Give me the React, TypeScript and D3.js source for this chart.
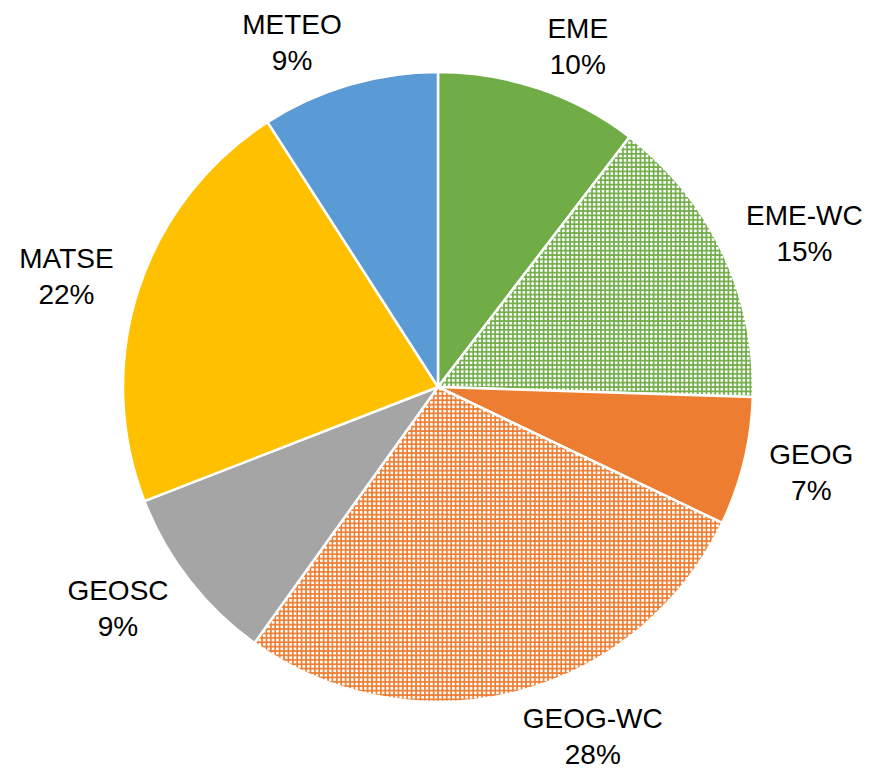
import React from "react";
import * as d3 from "d3";

const categories = ["EME", "EME-WC", "GEOG", "GEOG-WC", "GEOSC", "MATSE", "METEO"];
const values = [10.4, 15.1, 6.6, 27.8, 9.2, 21.8, 9.1];
const percentLabels = ["10%", "15%", "7%", "28%", "9%", "22%", "9%"];
const baseColors = ["#70AD47", "#70AD47", "#ED7D31", "#ED7D31", "#A5A5A5", "#FFC000", "#5B9BD5"];
const patterned = [false, true, false, true, false, false, false];

const W = 874;
const H = 770;
const CX = 438;
const CY = 387;
const R = 315;
const FONT = 28;
const FONT_FAMILY = "'Liberation Sans', Arial, sans-serif";

function measure(text: string): number {
  if (typeof document === "undefined") return text.length * FONT * 0.6;
  const c = document.createElement("canvas");
  const ctx = c.getContext("2d");
  if (!ctx) return text.length * FONT * 0.6;
  ctx.font = `${FONT}px ${FONT_FAMILY}`;
  return ctx.measureText(text).width;
}

export default function App() {
  const data = categories.map((c, i) => ({ name: c, value: values[i], label: percentLabels[i], i }));
  const pie = d3.pie<any>().sort(null).value((d: any) => d.value);
  const arcs = pie(data);
  const arcGen = d3.arc<any>().innerRadius(0).outerRadius(R);

  const D = 341;
  const boxH = 38;

  return (
    <svg
      width={W}
      height={H}
      style={{ position: "absolute", left: 0, top: 0, background: "#fff" }}
    >
      <defs>
        {["#70AD47", "#ED7D31"].map((col, k) => (
          <pattern
            key={k}
            id={`pat${k}`}
            patternUnits="userSpaceOnUse"
            width={4.4}
            height={4.4}
          >
            <rect x={0} y={0} width={4.4} height={4.4} fill={col} />
            <rect x={0.9} y={0.9} width={2.7} height={2.7} fill="#ffffff" />
          </pattern>
        ))}
      </defs>
      <rect x={0} y={0} width={W} height={H} fill="#fff" />
      <g transform={`translate(${CX},${CY})`}>
        {arcs.map((a, i) => {
          const fill = patterned[i]
            ? `url(#pat${baseColors[i] === "#70AD47" ? 0 : 1})`
            : baseColors[i];
          return (
            <path
              key={i}
              d={arcGen(a) as string}
              fill={fill}
              stroke="#fff"
              strokeWidth={2.5}
              strokeLinejoin="round"
            />
          );
        })}
      </g>
      <g fontFamily={FONT_FAMILY} fontSize={FONT} fill="#000">
        {arcs.map((a, i) => {
          const mid = (a.startAngle + a.endAngle) / 2;
          const ux = Math.sin(mid);
          const uy = -Math.cos(mid);
          const w = Math.max(measure(categories[i]), measure(percentLabels[i]));
          const cx = CX + D * ux + Math.sign(ux) * (w / 2);
          const cy = CY + D * uy + uy * (boxH / 2);
          return (
            <text key={i} textAnchor="middle">
              <tspan x={cx} y={cy - 8}>{categories[i]}</tspan>
              <tspan x={cx} y={cy + 28}>{percentLabels[i]}</tspan>
            </text>
          );
        })}
      </g>
    </svg>
  );
}
